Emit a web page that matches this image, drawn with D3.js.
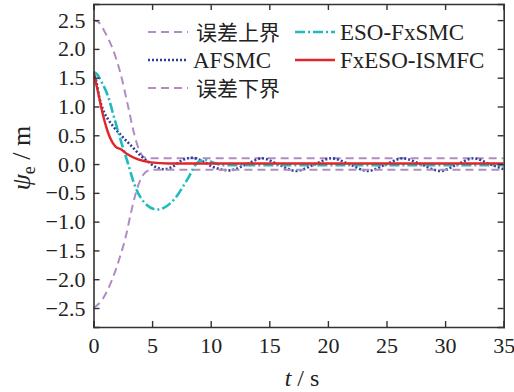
<!DOCTYPE html>
<html>
<head>
<meta charset="utf-8">
<script src="https://cdn.jsdelivr.net/npm/d3@7"></script>
<style>
  body { margin: 0; background: #fff; }
  svg text { font-family: "Liberation Serif", "Times New Roman", serif; fill: #222; }
  .cjk { font-family: "Noto Sans CJK SC", sans-serif; }
</style>
</head>
<body>
<div id="chart"></div>
<script>
// Data (t in s, value in m)
const upperT = [0, 0.5, 1.0, 1.6, 2.3, 2.9, 3.5, 3.9, 4.3, 4.8, 35];
const upperV = [2.5, 2.45, 2.28, 2.02, 1.58, 1.05, 0.5, 0.24, 0.12, 0.1, 0.1];

const lowerT = [0, 0.8, 1.5, 2.2, 2.8, 3.2, 3.8, 4.2, 4.6, 5.0, 35];
const lowerV = [-2.5, -2.34, -2.05, -1.65, -1.22, -0.84, -0.38, -0.2, -0.12, -0.1, -0.1];

const afsmcT = [0, 0.25, 0.5, 0.8, 1.3, 1.7, 2.4, 3.2, 4.0, 4.6, 5.2, 6.0, 6.8, 7.5, 8.4, 9.3, 10.2, 11.6, 13, 14.4, 15.8, 17.3, 18.8, 20.3, 21.9, 23.4, 24.9, 26.4, 28, 29.6, 31, 32.4, 33.8, 35];
const afsmcV = [1.6, 1.42, 1.15, 0.95, 0.76, 0.65, 0.49, 0.32, 0.15, 0.05, -0.04, -0.09, -0.04, 0.06, 0.11, 0.05, -0.05, -0.11, -0.01, 0.1, -0.01, -0.12, -0.01, 0.1, -0.01, -0.12, -0.01, 0.1, -0.01, -0.12, -0.01, 0.1, 0.0, -0.09];

const esoT = [0, 0.3, 0.7, 1.2, 1.8, 2.4, 2.9, 3.5, 4.3, 5.4, 6.0, 6.9, 8.0, 8.9, 9.5, 10.3, 11, 35];
const esoV = [1.6, 1.56, 1.42, 1.2, 0.78, 0.36, 0.04, -0.36, -0.66, -0.79, -0.76, -0.61, -0.27, 0.03, 0.07, 0.02, -0.02, -0.02];

const fxT = [0, 0.4, 0.8, 1.2, 1.6, 1.9, 2.3, 2.9, 3.8, 4.9, 6.4, 35];
const fxV = [1.6, 1.24, 0.86, 0.57, 0.38, 0.3, 0.26, 0.17, 0.08, 0.03, 0.01, 0.01];

const xTicks = [0, 5, 10, 15, 20, 25, 30, 35];
const yTicks = [-2.5, -2.0, -1.5, -1.0, -0.5, 0.0, 0.5, 1.0, 1.5, 2.0, 2.5];

const svg = d3.select("#chart").append("svg")
  .attr("width", 514)
  .attr("height", 392);

const margin = { top: 4, right: 10.3, bottom: 65, left: 93.5 };
const width = 514 - margin.left - margin.right;
const height = 392 - margin.top - margin.bottom;

const g = svg.append("g")
  .attr("transform", `translate(${margin.left}, ${margin.top})`);

const x = d3.scaleLinear().domain([0, 35]).range([0, width]);
const y = d3.scaleLinear().domain([-2.83, 2.78]).range([height, 0]);

const line = d3.line()
  .x(d => x(d[0]))
  .y(d => y(d[1]))
  .curve(d3.curveMonotoneX);

const zip = (ts, vs) => ts.map((t, i) => [t, vs[i]]);

const series = [
  { name: "误差上界", data: zip(upperT, upperV), color: "#b08cc2", dash: "8,5", w: 2, cjk: true },
  { name: "AFSMC", data: zip(afsmcT, afsmcV), color: "#2b3f9c", dash: "2,2", w: 2.6 },
  { name: "误差下界", data: zip(lowerT, lowerV), color: "#b08cc2", dash: "8,5", w: 2, cjk: true },
  { name: "ESO-FxSMC", data: zip(esoT, esoV), color: "#1fbcbf", dash: "10,3,2,3", w: 2.6 },
  { name: "FxESO-ISMFC", data: zip(fxT, fxV), color: "#e0262b", dash: null, w: 2.4 }
];

// Clip the curves to the plot area
svg.append("defs").append("clipPath").attr("id", "clip")
  .append("rect").attr("width", width).attr("height", height);

const plot = g.append("g").attr("clip-path", "url(#clip)");

series.forEach(s => {
  plot.append("path")
    .datum(s.data)
    .attr("fill", "none")
    .attr("stroke", s.color)
    .attr("stroke-width", s.w)
    .attr("stroke-dasharray", s.dash)
    .attr("d", line);
});

// Axes with inward ticks on all four sides
const tick = 6;
g.append("g")
  .attr("transform", `translate(0, ${height})`)
  .call(d3.axisBottom(x).tickValues(xTicks).tickSize(-tick).tickPadding(10).tickFormat(d3.format("d")))
  .call(a => a.selectAll("text").style("font-size", "22px").attr("dy", "0.71em"));

g.append("g")
  .call(d3.axisTop(x).tickValues(xTicks).tickSize(-tick).tickFormat(""));

g.append("g")
  .call(d3.axisLeft(y).tickValues(yTicks).tickSize(-tick).tickPadding(8)
    .tickFormat(d => d3.format(".1f")(d).replace("-", "\u2212")))
  .call(a => a.selectAll("text").style("font-size", "22px"));

g.append("g")
  .attr("transform", `translate(${width}, 0)`)
  .call(d3.axisRight(y).tickValues(yTicks).tickSize(-tick).tickFormat(""));

g.selectAll(".domain, .tick line")
  .attr("stroke", "#333")
  .attr("stroke-width", 1.4);
g.selectAll(".domain").attr("stroke-width", 1.6);

// Axis labels
const xl = svg.append("text")
  .attr("x", 302)
  .attr("y", 386)
  .attr("text-anchor", "middle")
  .style("font-size", "24px");
xl.append("tspan").style("font-style", "italic").text("t");
xl.append("tspan").text(" / s");

const yl = svg.append("text")
  .attr("transform", "translate(30, 158) rotate(-90)")
  .attr("text-anchor", "middle")
  .style("font-size", "26px");
yl.append("tspan").style("font-style", "italic").text("ψ");
yl.append("tspan").attr("dy", 5).style("font-size", "18px").text("e");
yl.append("tspan").attr("dy", -5).text(" / m");

// Legend
const legendPos = [
  { x: 148, y: 32 }, { x: 148, y: 60 }, { x: 148, y: 88 },
  { x: 295, y: 32 }, { x: 295, y: 60 }
];

const legend = svg.selectAll(".legend")
  .data(series)
  .enter()
  .append("g")
  .attr("class", "legend")
  .attr("transform", (d, i) => `translate(${legendPos[i].x}, ${legendPos[i].y})`);

legend.append("line")
  .attr("x1", 0).attr("x2", 40)
  .attr("stroke", d => d.color)
  .attr("stroke-width", d => d.w)
  .attr("stroke-dasharray", d => d.dash);

legend.append("text")
  .attr("x", d => d.cjk ? 48 : 45)
  .attr("y", 8)
  .attr("class", d => d.cjk ? "cjk" : null)
  .style("font-size", d => d.cjk ? "21px" : "23px")
  .text(d => d.name);
</script>
</body>
</html>
